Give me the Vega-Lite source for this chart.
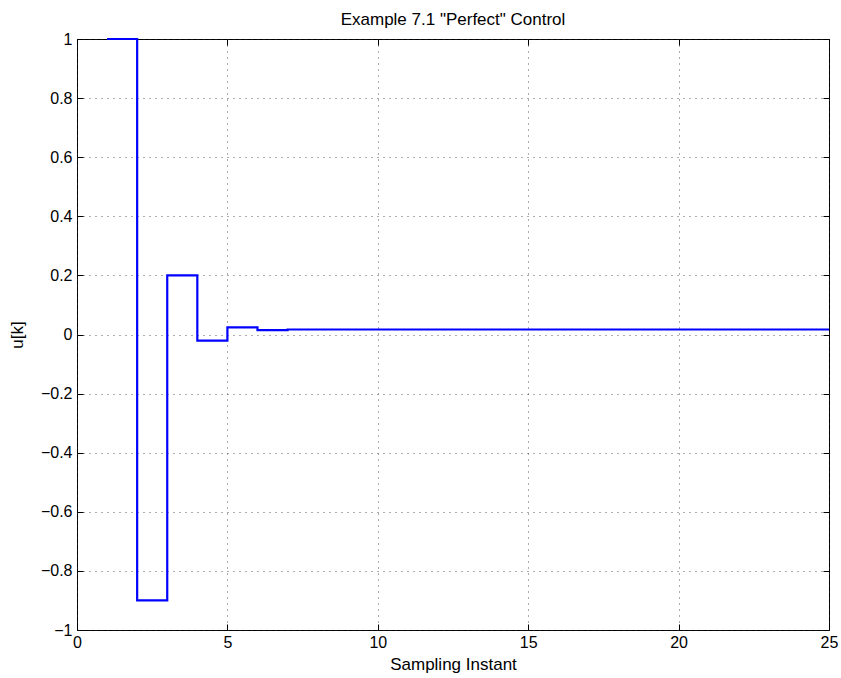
{
  "$schema": "https://vega.github.io/schema/vega-lite/v6.json",
  "width": 752,
  "height": 591,
  "autosize": {"type": "none"},
  "padding": {"left": 77, "top": 39, "right": 12, "bottom": 48},
  "background": "white",
  "title": {"text": "Example 7.1 \"Perfect\" Control", "font": "Liberation Sans", "fontSize": 17, "fontWeight": "normal", "color": "black", "offset": 2},
  "config": {
    "view": {"stroke": "black", "strokeWidth": 1},
    "axis": {
      "labelFont": "Liberation Sans", "labelFontSize": 16, "labelColor": "black", "labelFlush": false,
      "titleFont": "Liberation Sans", "titleFontSize": 17, "titleFontWeight": "normal", "titleColor": "black",
      "domain": false, "tickColor": "black", "tickSize": -6, "tickWidth": 1,
      "grid": true, "gridColor": "#333333", "gridDash": [1, 5], "gridWidth": 1, "gridOpacity": 0.8
    }
  },
  "data": {"values": [
    {"k": 1, "u": 1},
    {"k": 2, "u": -0.9},
    {"k": 3, "u": 0.2},
    {"k": 4, "u": -0.021},
    {"k": 5, "u": 0.024},
    {"k": 6, "u": 0.015},
    {"k": 7, "u": 0.017},
    {"k": 8, "u": 0.017},
    {"k": 9, "u": 0.017},
    {"k": 10, "u": 0.017},
    {"k": 11, "u": 0.017},
    {"k": 12, "u": 0.017},
    {"k": 13, "u": 0.017},
    {"k": 14, "u": 0.017},
    {"k": 15, "u": 0.017},
    {"k": 16, "u": 0.017},
    {"k": 17, "u": 0.017},
    {"k": 18, "u": 0.017},
    {"k": 19, "u": 0.017},
    {"k": 20, "u": 0.017},
    {"k": 21, "u": 0.017},
    {"k": 22, "u": 0.017},
    {"k": 23, "u": 0.017},
    {"k": 24, "u": 0.017},
    {"k": 25, "u": 0.017}
  ]},
  "layer": [
    {
      "mark": {"type": "line", "interpolate": "step-after", "color": "#0000ff", "strokeWidth": 2.2},
      "encoding": {
        "x": {"field": "k", "type": "quantitative", "scale": {"domain": [0, 25], "nice": false, "zero": false},
              "axis": {"title": "Sampling Instant", "values": [0, 5, 10, 15, 20, 25], "labelPadding": 10, "titlePadding": 6}},
        "y": {"field": "u", "type": "quantitative", "scale": {"domain": [-1, 1], "nice": false},
              "axis": {"title": "u[k]", "values": [-1, -0.8, -0.6, -0.4, -0.2, 0, 0.2, 0.4, 0.6, 0.8, 1], "labelExpr": "format(datum.value, '~g')", "labelPadding": 11, "titlePadding": 14}}
      }
    },
    {
      "mark": {"type": "point", "opacity": 0},
      "encoding": {
        "x": {"field": "k", "type": "quantitative", "scale": {"domain": [0, 25], "nice": false, "zero": false},
              "axis": {"orient": "top", "title": null, "labels": false, "grid": false, "values": [0, 5, 10, 15, 20, 25]}},
        "y": {"field": "u", "type": "quantitative", "scale": {"domain": [-1, 1], "nice": false},
              "axis": {"orient": "right", "title": null, "labels": false, "grid": false, "values": [-1, -0.8, -0.6, -0.4, -0.2, 0, 0.2, 0.4, 0.6, 0.8, 1]}}
      }
    }
  ],
  "resolve": {"axis": {"x": "independent", "y": "independent"}}
}
